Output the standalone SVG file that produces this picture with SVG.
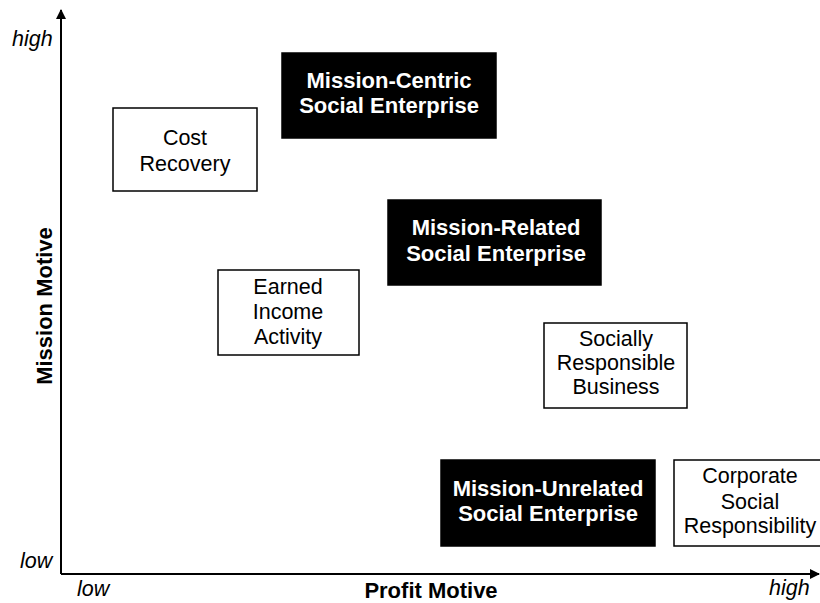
<svg xmlns="http://www.w3.org/2000/svg" width="820" height="603" viewBox="0 0 820 603">
<style>
.w{fill:#fff;stroke:#000;stroke-width:1.5}
.b{fill:#000;stroke:#000;stroke-width:1.5}
.t{font-family:"Liberation Sans",Arial,sans-serif;font-size:21.5px;text-anchor:middle;fill:#000}
.tb{font-family:"Liberation Sans",Arial,sans-serif;font-size:22px;font-weight:bold;text-anchor:middle;fill:#fff}
.ax{font-family:"Liberation Sans",Arial,sans-serif;font-size:21.5px;font-style:italic;fill:#000}
.al{font-family:"Liberation Sans",Arial,sans-serif;font-size:22px;font-weight:bold;fill:#000;text-anchor:middle}
</style>
<defs>
<marker id="ah" viewBox="0 0 10 10" refX="9" refY="5" markerWidth="10" markerHeight="10" markerUnits="userSpaceOnUse" orient="auto">
<path d="M0,0 L10,5 L0,10 z" fill="#000"/>
</marker>
</defs>
<rect width="820" height="603" fill="#fff"/>
<g id="axes">
<line x1="61" y1="574" x2="61" y2="10" stroke="#000" stroke-width="2" marker-end="url(#ah)"/>
<line x1="61" y1="574" x2="819" y2="574" stroke="#000" stroke-width="2" marker-end="url(#ah)"/>
<text class="ax" x="12" y="46">high</text>
<text class="ax" x="20" y="568">low</text>
<text class="ax" x="77" y="596">low</text>
<text class="ax" x="769" y="595">high</text>
<text class="al" x="431" y="598">Profit Motive</text>
<text class="al" transform="translate(52,306) rotate(-90)">Mission Motive</text>
</g>
<g id="cost-recovery">
<rect class="w" x="113" y="108" width="144" height="83"/>
<text class="t" x="185" y="145">Cost</text>
<text class="t" x="185" y="171">Recovery</text>
</g>
<g id="mission-centric">
<rect class="b" x="282" y="53" width="214" height="85"/>
<text class="tb" x="389" y="88">Mission-Centric</text>
<text class="tb" x="389" y="113">Social Enterprise</text>
</g>
<g id="mission-related">
<rect class="b" x="388" y="200" width="213" height="85"/>
<text class="tb" x="496" y="235">Mission-Related</text>
<text class="tb" x="496" y="261">Social Enterprise</text>
</g>
<g id="earned-income">
<rect class="w" x="218" y="270" width="141" height="85"/>
<text class="t" x="288" y="294">Earned</text>
<text class="t" x="288" y="319">Income</text>
<text class="t" x="288" y="344">Activity</text>
</g>
<g id="socially-responsible">
<rect class="w" x="544" y="323" width="143" height="85"/>
<text class="t" x="616" y="346">Socially</text>
<text class="t" x="616" y="370">Responsible</text>
<text class="t" x="616" y="394">Business</text>
</g>
<g id="mission-unrelated">
<rect class="b" x="441" y="460" width="214" height="86"/>
<text class="tb" x="548" y="496">Mission-Unrelated</text>
<text class="tb" x="548" y="521">Social Enterprise</text>
</g>
<g id="csr">
<rect class="w" x="674" y="460" width="150" height="86"/>
<text class="t" x="750" y="483">Corporate</text>
<text class="t" x="750" y="509">Social</text>
<text class="t" x="750" y="533">Responsibility</text>
</g>
</svg>
